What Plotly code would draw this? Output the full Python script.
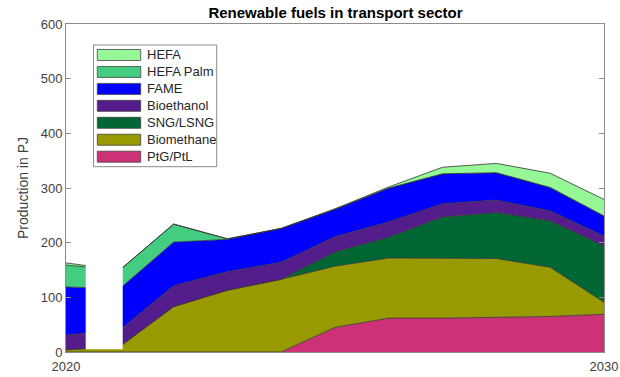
import plotly.graph_objects as go

# Annual production of renewable transport fuels (PJ), stacked bottom to top
years = list(range(2020, 2031))
ptg_ptl = [0, 0, 0, 0, 0, 45, 62, 62, 64, 65, 69]
biomethane = [4, 10, 83, 113, 133, 112, 110, 109, 107, 90, 22]
sng_lsng = [0, 0, 0, 0, 0, 26, 38, 76, 84, 85, 103]
bioethanol = [27, 30, 38, 34, 31, 28, 28, 24, 23, 18, 18]
fame = [88, 76, 80, 59, 62, 50, 62, 55, 50, 43, 37]
hefa_palm = [40, 34, 33, 1, 0, 0, 0, 0, 0, 0, 0]
hefa = [4, 0, 0, 0, 0, 1, 2, 12, 17, 26, 30]

series_names = ["PtG/PtL", "Biomethane", "SNG/LSNG", "Bioethanol", "FAME", "HEFA Palm", "HEFA"]
series_values = [ptg_ptl, biomethane, sng_lsng, bioethanol, fame, hefa_palm, hefa]
series_colors = ["#CC3377", "#999900", "#006633", "#551C8C", "#0000FF", "#44CC80", "#96F796"]

x_ticks = [2020, 2030]
y_ticks = [0, 100, 200, 300, 400, 500, 600]

FONT = "Liberation Sans, Arial, sans-serif"
W, H = 620, 377
L, R, T, B = 66, 16, 24, 25
pw, ph = W - L - R, H - T - B


def px_x(px):
    return (px - L) / pw


def px_y(py):
    return (H - B - py) / ph


fig = go.Figure()
for name, vals, col in zip(series_names, series_values, series_colors):
    fig.add_trace(go.Scatter(
        x=years, y=vals, name=name, stackgroup="one", mode="lines",
        line=dict(width=0.8, color="#333333"), fillcolor=col,
        showlegend=False,
    ))

shapes = []
annotations = []

# blank panel over the early years
shapes.append(dict(type="rect", xref="x", yref="y", x0=2020.366, x1=2021.054,
                   y0=5, y1=175, fillcolor="white", line=dict(width=0), layer="above"))

# legend box drawn by hand (top entry = top of stack)
shapes.append(dict(type="rect", xref="paper", yref="paper",
                   x0=px_x(93.5), x1=px_x(216.7), y0=px_y(166.7), y1=px_y(45),
                   fillcolor="white", line=dict(color="#8c8c8c", width=1), layer="above"))
row0, step, sw_h = 55.0, 16.95, 11
for i, (name, col) in enumerate(zip(series_names[::-1], series_colors[::-1])):
    yc = row0 + i * step
    shapes.append(dict(type="rect", xref="paper", yref="paper",
                       x0=px_x(97.3), x1=px_x(140.7),
                       y0=px_y(yc + sw_h / 2), y1=px_y(yc - sw_h / 2),
                       fillcolor=col, line=dict(color="#444444", width=0.8), layer="above"))
    annotations.append(dict(xref="paper", yref="paper", x=px_x(145), y=px_y(yc),
                            xanchor="left", yanchor="middle", text=name, showarrow=False,
                            font=dict(family=FONT, size=13, color="#262626")))

axis_common = dict(
    showline=True, linecolor="#8c8c8c", linewidth=1, mirror="ticks",
    ticks="inside", ticklen=5, tickcolor="#8c8c8c", showgrid=False, zeroline=False,
    tickfont=dict(family=FONT, size=13, color="#404040"), automargin=False,
)

fig.update_layout(
    width=W, height=H,
    margin=dict(l=L, r=R, t=T, b=B, autoexpand=False),
    paper_bgcolor="white", plot_bgcolor="white",
    title=dict(text="<b>Renewable fuels in transport sector</b>",
               x=px_x(335.5), xref="paper", xanchor="center",
               y=1 - 12.5 / H, yref="container", yanchor="middle",
               font=dict(family=FONT, size=15, color="#000000")),
    xaxis=dict(range=[2020, 2030], tickvals=x_ticks, ticktext=[str(v) for v in x_ticks],
               ticklabelstandoff=2, **axis_common),
    yaxis=dict(range=[0, 600], tickvals=y_ticks, ticktext=[str(v) for v in y_ticks],
               title=dict(text="Production in PJ", standoff=8,
                          font=dict(family=FONT, size=14, color="#404040")),
               **axis_common),
    shapes=shapes,
    annotations=annotations,
    showlegend=False,
)

fig.write_html("out.html")
